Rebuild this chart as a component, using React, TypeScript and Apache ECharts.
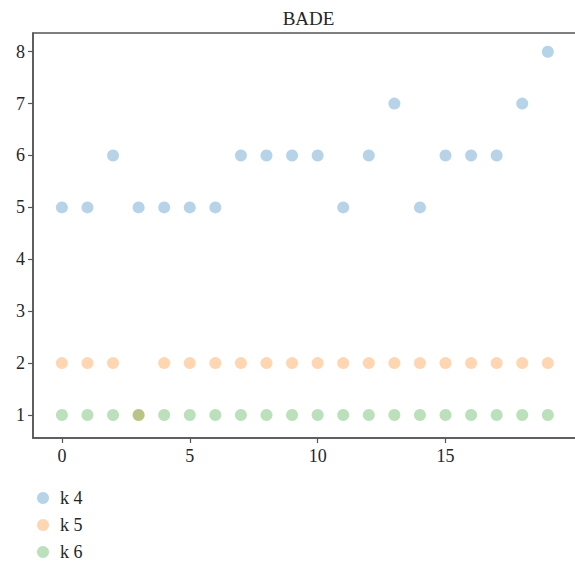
import React, { useEffect, useRef } from "react";
import * as echarts from "echarts";

const xValues = [0, 1, 2, 3, 4, 5, 6, 7, 8, 9, 10, 11, 12, 13, 14, 15, 16, 17, 18, 19];
const k4 = [5, 5, 6, 5, 5, 5, 5, 6, 6, 6, 6, 5, 6, 7, 5, 6, 6, 6, 7, 8];
const k5 = [2, 2, 2, 1, 2, 2, 2, 2, 2, 2, 2, 2, 2, 2, 2, 2, 2, 2, 2, 2];
const k6 = [1, 1, 1, 1, 1, 1, 1, 1, 1, 1, 1, 1, 1, 1, 1, 1, 1, 1, 1, 1];
const seriesNames = ["k 4", "k 5", "k 6"];
const seriesColors = ["rgba(31,119,180,0.4)", "rgba(255,127,14,0.4)", "rgba(44,160,44,0.4)"];
const xTicks = [0, 5, 10, 15];
const yTicks = [1, 2, 3, 4, 5, 6, 7, 8];
const title = "BADE";

const FONT = "'Liberation Serif', 'DejaVu Serif', serif";
const AXIS_COLOR = "#555555";
const TEXT_COLOR = "#262626";

export default function App() {
  const ref = useRef<HTMLDivElement>(null);
  useEffect(() => {
    if (!ref.current) return;
    const chart = echarts.init(ref.current, null, { renderer: "svg" });
    const allSeries = [k4, k5, k6];
    chart.setOption({
      animation: false,
      backgroundColor: "#ffffff",
      title: {
        text: title,
        left: 303.5,
        textAlign: "center",
        top: 4,
        textStyle: { fontFamily: FONT, fontSize: 19, fontWeight: "normal", color: TEXT_COLOR },
      },
      legend: {
        orient: "vertical",
        left: 37,
        top: 489,
        padding: 0,
        height: 80,
        icon: "circle",
        itemWidth: 12,
        itemHeight: 12,
        itemGap: 9,
        data: seriesNames,
        textStyle: { fontFamily: FONT, fontSize: 18, color: TEXT_COLOR, lineHeight: 17, padding: [0, 0, 0, 6] },
      },
      grid: {
        left: 33,
        top: 33,
        right: -3,
        bottom: 123,
        containLabel: false,
        outerBoundsMode: "none",
        show: true,
        borderColor: AXIS_COLOR,
        borderWidth: 1.5,
        backgroundColor: "transparent",
      },
      xAxis: {
        type: "value",
        min: -1.13,
        max: 20.18,
        position: "bottom",
        splitLine: { show: false },
        axisLine: { show: true, onZero: false, lineStyle: { color: AXIS_COLOR, width: 1.5 } },
        axisTick: { show: true, length: 5, customValues: xTicks, lineStyle: { color: AXIS_COLOR, width: 1.2 } },
        axisLabel: { customValues: xTicks, margin: 9, fontFamily: FONT, fontSize: 18, color: TEXT_COLOR },
      },
      yAxis: {
        type: "value",
        min: 0.557,
        max: 8.36,
        position: "left",
        splitLine: { show: false },
        axisLine: { show: true, onZero: false, lineStyle: { color: AXIS_COLOR, width: 1.5 } },
        axisTick: { show: true, length: 5, customValues: yTicks, lineStyle: { color: AXIS_COLOR, width: 1.2 } },
        axisLabel: { customValues: yTicks, margin: 8, fontFamily: FONT, fontSize: 18, color: TEXT_COLOR },
      },
      series: allSeries.map((vals, i) => ({
        name: seriesNames[i],
        type: "scatter",
        symbol: "circle",
        symbolSize: 12,
        itemStyle: { color: seriesColors[i] },
        data: xValues.map((x, j) => [x, vals[j]]),
      })),
    });
    return () => chart.dispose();
  }, []);
  return <div ref={ref} style={{ position: "fixed", left: 0, top: 0, width: 575, height: 561 }} />;
}
